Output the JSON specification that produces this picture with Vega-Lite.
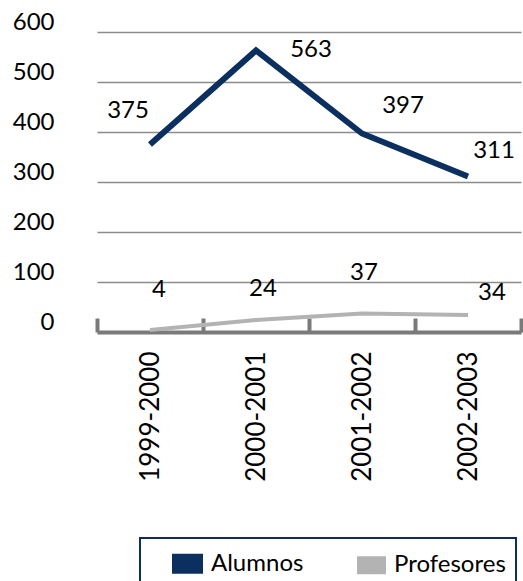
{
  "$schema": "https://vega.github.io/schema/vega-lite/v6.json",
  "width": 424,
  "height": 300,
  "autosize": {"type": "none"},
  "padding": {"left": 97, "top": 32, "right": 2, "bottom": 249},
  "background": "white",
  "config": {"view": {"stroke": null}},
  "data": {
    "values": [
      {"year": "1999-2000", "series": "Alumnos", "value": 375},
      {"year": "2000-2001", "series": "Alumnos", "value": 563},
      {"year": "2001-2002", "series": "Alumnos", "value": 397},
      {"year": "2002-2003", "series": "Alumnos", "value": 311},
      {"year": "1999-2000", "series": "Profesores", "value": 4},
      {"year": "2000-2001", "series": "Profesores", "value": 24},
      {"year": "2001-2002", "series": "Profesores", "value": 37},
      {"year": "2002-2003", "series": "Profesores", "value": 34}
    ]
  },
  "encoding": {
    "x": {
      "field": "year",
      "type": "ordinal",
      "bandPosition": 0.5,
      "scale": {"type": "band", "paddingInner": 0, "paddingOuter": 0},
      "axis": {
        "title": null,
        "labelAngle": -90,
        "labelAlign": "right",
        "labelBaseline": "middle",
        "labelFont": "Lato",
        "labelFontSize": 26,
        "labelColor": "#000000",
        "domainColor": "#7a7a7a",
        "domainWidth": 4,
        "tickColor": "#7a7a7a",
        "tickWidth": 4,
        "tickSize": -14,
        "tickBand": "extent",
        "labelPadding": 33,
        "grid": false
      }
    },
    "y": {
      "field": "value",
      "type": "quantitative",
      "scale": {"domain": [0, 600]},
      "axis": {
        "title": null,
        "values": [0, 100, 200, 300, 400, 500, 600],
        "grid": true,
        "gridColor": "#8c8c8c",
        "gridWidth": 1.5,
        "domain": false,
        "ticks": false,
        "labelFont": "Lato",
        "labelFontSize": 24,
        "labelColor": "#000000",
        "labelPadding": 43,
        "labelOffset": -10
      }
    }
  },
  "layer": [
    {
      "mark": {"type": "line"},
      "encoding": {
        "color": {
          "field": "series",
          "type": "nominal",
          "scale": {"domain": ["Alumnos", "Profesores"], "range": ["#0b2f5f", "#b3b3b3"]},
          "legend": {
            "orient": "none",
            "legendX": 43,
            "legendY": 506,
            "direction": "horizontal",
            "title": " ",
            "titleOrient": "left",
            "titleFontSize": 24,
            "titlePadding": 22,
            "strokeColor": "#0b2f5f",
            "padding": 10,
            "symbolType": "M-1,-0.56H1V0.56H-1Z",
            "symbolSize": 625,
            "symbolStrokeWidth": 0,
            "labelFont": "Lato",
            "labelFontSize": 24,
            "labelColor": "#000000",
            "labelOffset": 8,
            "columnPadding": 47,
            "encode": {
              "legend": {"update": {"strokeWidth": {"value": 2}}},
              "symbols": {"update": {"fill": {"scale": "color", "field": "value"}, "strokeWidth": {"value": 0}}}
            }
          }
        },
        "strokeWidth": {
          "field": "series",
          "type": "ordinal",
          "scale": {"domain": ["Alumnos", "Profesores"], "range": [6, 4]},
          "legend": null
        }
      }
    },
    {
      "transform": [{"filter": "datum.series == 'Alumnos' && datum.year == '1999-2000'"}],
      "mark": {"type": "text", "font": "Lato", "fontSize": 24, "color": "#000000", "dx": -22, "dy": -34},
      "encoding": {"text": {"field": "value", "type": "quantitative"}}
    },
    {
      "transform": [{"filter": "datum.series == 'Alumnos' && datum.year == '2000-2001'"}],
      "mark": {"type": "text", "font": "Lato", "fontSize": 24, "color": "#000000", "dx": 55, "dy": -1},
      "encoding": {"text": {"field": "value", "type": "quantitative"}}
    },
    {
      "transform": [{"filter": "datum.series == 'Alumnos' && datum.year == '2001-2002'"}],
      "mark": {"type": "text", "font": "Lato", "fontSize": 24, "color": "#000000", "dx": 41, "dy": -28},
      "encoding": {"text": {"field": "value", "type": "quantitative"}}
    },
    {
      "transform": [{"filter": "datum.series == 'Alumnos' && datum.year == '2002-2003'"}],
      "mark": {"type": "text", "font": "Lato", "fontSize": 24, "color": "#000000", "dx": 26, "dy": -26},
      "encoding": {"text": {"field": "value", "type": "quantitative"}}
    },
    {
      "transform": [{"filter": "datum.series == 'Profesores' && datum.year == '1999-2000'"}],
      "mark": {"type": "text", "font": "Lato", "fontSize": 24, "color": "#000000", "dx": 9, "dy": -40},
      "encoding": {"text": {"field": "value", "type": "quantitative"}}
    },
    {
      "transform": [{"filter": "datum.series == 'Profesores' && datum.year == '2000-2001'"}],
      "mark": {"type": "text", "font": "Lato", "fontSize": 24, "color": "#000000", "dx": 7, "dy": -31},
      "encoding": {"text": {"field": "value", "type": "quantitative"}}
    },
    {
      "transform": [{"filter": "datum.series == 'Profesores' && datum.year == '2001-2002'"}],
      "mark": {"type": "text", "font": "Lato", "fontSize": 24, "color": "#000000", "dx": 2, "dy": -41},
      "encoding": {"text": {"field": "value", "type": "quantitative"}}
    },
    {
      "transform": [{"filter": "datum.series == 'Profesores' && datum.year == '2002-2003'"}],
      "mark": {"type": "text", "font": "Lato", "fontSize": 24, "color": "#000000", "dx": 24, "dy": -22},
      "encoding": {"text": {"field": "value", "type": "quantitative"}}
    }
  ]
}
